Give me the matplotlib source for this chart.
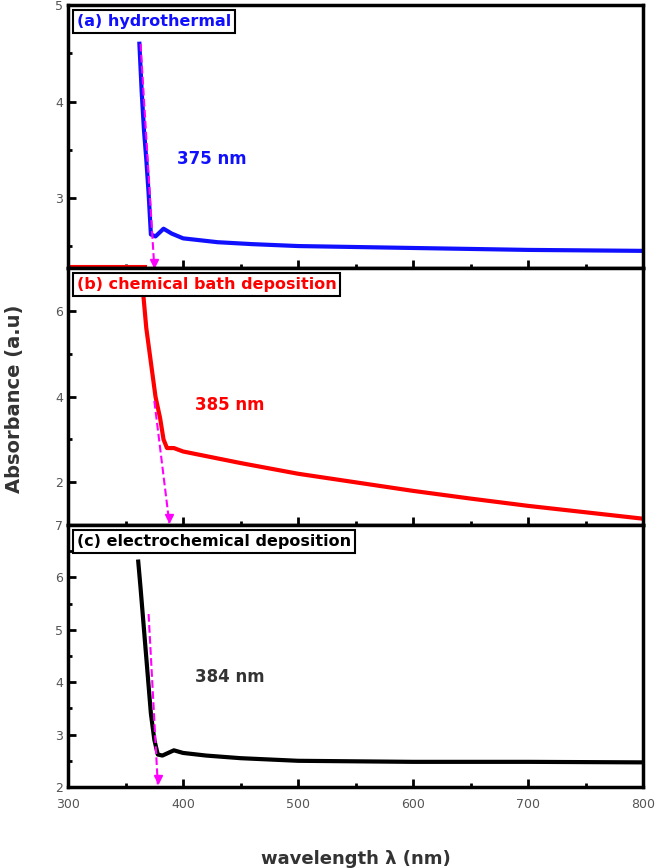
import matplotlib
matplotlib.use("Agg")
import matplotlib.pyplot as plt
import numpy as np

# Data
wl_a = [362, 364, 366, 368, 370, 372, 376, 383, 390, 400, 430, 460, 500, 600, 700, 800]
ab_a = [4.6, 4.1, 3.7, 3.4, 3.05, 2.62, 2.6, 2.68, 2.63, 2.58, 2.54, 2.52, 2.5, 2.48, 2.46, 2.45]
wl_b = [365, 368, 372, 376, 380, 383, 386, 392, 400, 450, 500, 550, 600, 650, 700, 750, 800]
ab_b = [6.5, 5.6, 4.8, 4.0, 3.5, 3.0, 2.8, 2.8, 2.72, 2.45, 2.2, 2.0, 1.8, 1.62, 1.45, 1.3, 1.15]
wl_c = [361, 363, 366, 369, 372, 375, 378, 382, 392, 400, 420, 450, 500, 600, 700, 800]
ab_c = [6.3, 5.8, 5.0, 4.2, 3.4, 2.9, 2.62, 2.6, 2.7, 2.65, 2.6, 2.55, 2.5, 2.48, 2.48, 2.47]
edge = {"a": ([363, 375], [4.6, 2.27]), "b": ([375, 388], [3.9, 1.05]), "c": ([370, 378], [5.3, 2.05])}
names = ["(a) hydrothermal", "(b) chemical bath deposition", "(c) electrochemical deposition"]
edge_labels = ["375 nm", "385 nm", "384 nm"]
colors = ["#1010ff", "#ff0000", "#000000"]

fig = plt.figure(figsize=(6.61, 8.68), dpi=100)
L, W = 0.103, 0.870
axa = fig.add_axes([L, 0.691, W, 0.303])
axb = fig.add_axes([L, 0.395, W, 0.296])
axc = fig.add_axes([L, 0.0933, W, 0.302])
axes = [axa, axb, axc]
data = [(wl_a, ab_a), (wl_b, ab_b), (wl_c, ab_c)]
ylims = [(2.27, 5), (1, 7), (2, 7)]
yticks = [[3, 4, 5], [2, 4, 6], [2, 3, 4, 5, 6, 7]]
yminor = [[2.5, 3.5, 4.5], [1, 3, 5, 7], [2.5, 3.5, 4.5, 5.5, 6.5]]
textpos = [(395, 3.4), (410, 3.8), (410, 4.1)]
keys = ["a", "b", "c"]
for i, ax in enumerate(axes):
    x, y = data[i]
    ax.plot(x, y, color=colors[i], lw=3)
    ex, ey = edge[keys[i]]
    ax.plot(ex, ey, color="#ff00ff", ls="--", lw=1.5)
    ax.plot(ex[1], ey[1] + 0.02 * (ylims[i][1] - ylims[i][0]), marker="v", color="#ff00ff", ms=6)
    ax.set_xlim(300, 800)
    ax.set_ylim(*ylims[i])
    ax.set_yticks(yticks[i])
    ax.set_yticks(yminor[i], minor=True)
    ax.set_xticks([300, 400, 500, 600, 700, 800])
    ax.set_xticks([350, 450, 550, 650, 750], minor=True)
    ax.tick_params(which="both", direction="in", width=2, colors="black", labelcolor="#555555", labelsize=9)
    ax.tick_params(which="major", length=6)
    ax.tick_params(which="minor", length=3)
    ax.tick_params(axis="x", pad=8)
    for s in ax.spines.values():
        s.set_linewidth(2.5)
    if i < 2:
        ax.tick_params(axis="x", labelbottom=False)
    ax.text(0.015, 0.965, names[i], transform=ax.transAxes, fontsize=11.5, fontweight="bold",
            color=colors[i] if i != 2 else "black", va="top", ha="left",
            bbox=dict(boxstyle="square,pad=0.25", fc="white", ec="black", lw=1.5))
    ax.text(textpos[i][0], textpos[i][1], edge_labels[i], color=colors[i] if i != 2 else "#333333",
            fontsize=12, fontweight="bold", ha="left", va="center")
axa.plot([300, 368], [2.29, 2.29], color="red", lw=1.5)
axc.set_xlabel("wavelength λ (nm)", fontsize=13, fontweight="bold", color="#333333", labelpad=28)
fig.text(0.022, 0.54, "Absorbance (a.u)", rotation=90, fontsize=14, fontweight="bold",
         color="#333333", ha="center", va="center")
fig.savefig("out.png", dpi=100)
